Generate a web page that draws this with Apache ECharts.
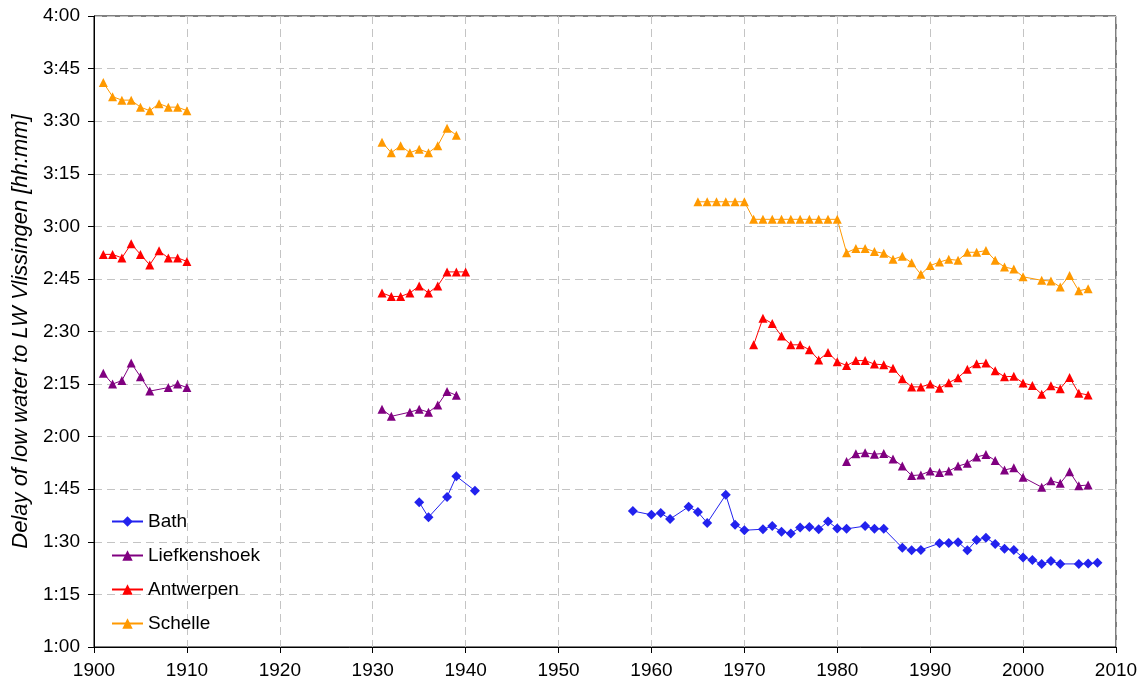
<!DOCTYPE html>
<html>
<head>
<meta charset="utf-8">
<script src="https://cdn.jsdelivr.net/npm/echarts@6/dist/echarts.min.js"></script>
<style>
  html, body { margin: 0; padding: 0; background: #fff; }
  #chart { width: 1147px; height: 685px; }
</style>
</head>
<body>
<div id="chart"></div>
<script>
// delay in minutes, null marks a break between measuring periods
const bathYears = [1935, 1936, 1938, 1939, 1941, 1950,
  1958, 1960, 1961, 1962, 1964, 1965, 1966, 1968, 1969, 1970, 1972, 1973, 1974, 1975,
  1976, 1977, 1978, 1979, 1980, 1981, 1983, 1984, 1985, 1987, 1988, 1989, 1991, 1992,
  1993, 1994, 1995, 1996, 1997, 1998, 1999, 2000, 2001, 2002, 2003, 2004, 2006, 2007, 2008];
const bathValues = [101.3, 97, 102.8, 108.7, 104.6, null,
  98.8, 97.7, 98.2, 96.5, 100, 98.5, 95.4, 103.4, 94.9, 93.3, 93.6, 94.5, 92.9, 92.4,
  94.1, 94.2, 93.6, 95.8, 93.8, 93.7, 94.5, 93.7, 93.7, 88.3, 87.6, 87.7, 89.6, 89.7,
  89.9, 87.6, 90.5, 91.2, 89.4, 88, 87.7, 85.5, 84.8, 83.7, 84.5, 83.7, 83.7, 83.8, 84];

const liefYears = [1901, 1902, 1903, 1904, 1905, 1906, 1908, 1909, 1910, 1920,
  1931, 1932, 1934, 1935, 1936, 1937, 1938, 1939, 1960,
  1981, 1982, 1983, 1984, 1985, 1986, 1987, 1988, 1989, 1990, 1991, 1992, 1993, 1994,
  1995, 1996, 1997, 1998, 1999, 2000, 2002, 2003, 2004, 2005, 2006, 2007];
const liefValues = [138.1, 135, 136, 141, 137.1, 133, 134, 135, 134, null,
  127.8, 125.8, 127, 127.8, 127, 129, 132.9, 131.8, null,
  112.9, 115.1, 115.4, 115, 115.2, 113.6, 111.6, 108.9, 109.1, 110.2, 109.8, 110.2, 111.6, 112.4,
  114.2, 114.9, 113.2, 110.5, 111.1, 108.4, 105.6, 107.4, 106.7, 110, 106, 106.2];

const antwYears = [1901, 1902, 1903, 1904, 1905, 1906, 1907, 1908, 1909, 1910, 1920,
  1931, 1932, 1933, 1934, 1935, 1936, 1937, 1938, 1939, 1940, 1960,
  1971, 1972, 1973, 1974, 1975, 1976, 1977, 1978, 1979, 1980, 1981, 1982, 1983, 1984,
  1985, 1986, 1987, 1988, 1989, 1990, 1991, 1992, 1993, 1994, 1995, 1996, 1997, 1998,
  1999, 2000, 2001, 2002, 2003, 2004, 2005, 2006, 2007];
const antwValues = [172, 172, 171, 175, 172, 169, 173, 171, 171, 170, null,
  161, 160, 160, 161, 163, 161, 163, 167, 167, 167, null,
  146.2, 153.8, 152.3, 148.7, 146.2, 146.2, 144.8, 141.9, 144, 141.4, 140.3, 141.7, 141.7, 140.7,
  140.5, 139.5, 136.5, 134.2, 134.2, 135, 133.8, 135.4, 136.8, 139.2, 140.8, 141, 138.8, 137.1,
  137.2, 135.3, 134.6, 132.1, 134.5, 133.7, 136.9, 132.4, 131.9];

const scheYears = [1901, 1902, 1903, 1904, 1905, 1906, 1907, 1908, 1909, 1910, 1920,
  1931, 1932, 1933, 1934, 1935, 1936, 1937, 1938, 1939, 1950,
  1965, 1966, 1967, 1968, 1969, 1970, 1971, 1972, 1973, 1974, 1975, 1976, 1977, 1978,
  1979, 1980, 1981, 1982, 1983, 1984, 1985, 1986, 1987, 1988, 1989, 1990, 1991, 1992,
  1993, 1994, 1995, 1996, 1997, 1998, 1999, 2000, 2002, 2003, 2004, 2005, 2006, 2007];
const scheValues = [221, 217, 216, 216, 214, 213, 215, 214, 214, 213, null,
  204, 201, 203, 201, 202, 201, 203, 208, 206, null,
  187, 187, 187, 187, 187, 187, 182, 182, 182, 182, 182, 182, 182, 182,
  182, 182, 172.5, 173.7, 173.7, 172.8, 172.3, 170.6, 171.5, 169.6, 166.3, 168.8, 169.8, 170.6,
  170.3, 172.6, 172.6, 173.1, 170.3, 168.4, 167.8, 165.6, 164.6, 164.4, 162.7, 166, 161.6, 162.2];

const pairs = (xs, ys) => xs.map((x, i) => [x, ys[i]]);

const toHhmm = (v) => {
  const h = Math.floor(v / 60);
  const m = Math.round(v % 60);
  return h + ":" + (m < 10 ? "0" + m : m);
};

const makeSeries = (name, xs, ys, color, symbol, size) => ({
  name: name,
  type: "line",
  data: pairs(xs, ys),
  symbol: symbol,
  symbolSize: size,
  connectNulls: false,
  color: color,
  lineStyle: { color: color, width: 1 },
  itemStyle: { color: color },
  emphasis: { disabled: true },
});

const chart = echarts.init(document.getElementById("chart"));

const option = {
  animation: false,
  textStyle: { fontFamily: "Liberation Sans, Arial, sans-serif" },
  grid: {
    left: 94,
    right: 31,
    top: 16,
    bottom: 38,
    show: true,
    borderColor: "#000",
    borderWidth: 1,
  },
  legend: {
    orient: "vertical",
    left: 106,
    top: 507,
    itemWidth: 31,
    itemHeight: 13,
    itemGap: 15,
    textStyle: { fontSize: 19, color: "#000" },
    data: ["Bath", "Liefkenshoek", "Antwerpen", "Schelle"],
  },
  xAxis: {
    type: "value",
    min: 1900,
    max: 2010,
    interval: 10,
    axisLine: { lineStyle: { color: "#000", width: 1 } },
    axisTick: { show: true, length: 6, lineStyle: { color: "#000" } },
    axisLabel: { fontSize: 19, color: "#000", margin: 14, formatter: (v) => String(v) },
    splitLine: {
      show: true,
      lineStyle: { color: "#C4C4C4", type: [8, 5], width: 1 },
    },
  },
  yAxis: {
    type: "value",
    min: 60,
    max: 240,
    interval: 15,
    name: "Delay of low water to LW Vlissingen [hh:mm]",
    nameLocation: "middle",
    nameGap: 62,
    nameTextStyle: { fontSize: 22, fontStyle: "italic", color: "#000" },
    axisLine: { show: true, lineStyle: { color: "#000", width: 1 } },
    axisTick: { show: true, length: 6, lineStyle: { color: "#000" } },
    axisLabel: { fontSize: 19, color: "#000", margin: 14, formatter: toHhmm },
    splitLine: {
      show: true,
      lineStyle: { color: "#C4C4C4", type: [8, 5], width: 1 },
    },
  },
  series: [
    makeSeries("Bath", bathYears, bathValues, "#2222EE", "diamond", 10),
    makeSeries("Liefkenshoek", liefYears, liefValues, "#800080", "triangle", 9),
    makeSeries("Antwerpen", antwYears, antwValues, "#FF0000", "triangle", 9),
    makeSeries("Schelle", scheYears, scheValues, "#FF9900", "triangle", 9),
  ],
};

chart.setOption(option);
</script>
</body>
</html>
